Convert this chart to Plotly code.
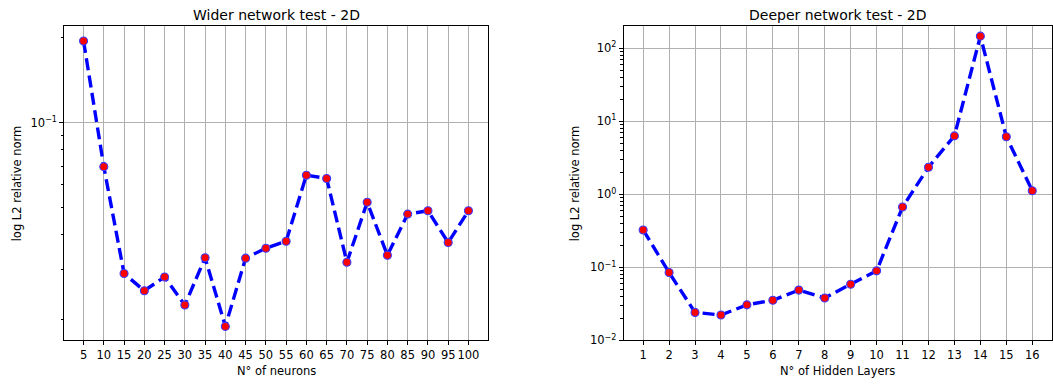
import plotly.graph_objects as go

neurons = [5, 10, 15, 20, 25, 30, 35, 40, 45, 50, 55, 60, 65, 70, 75, 80, 85, 90, 95, 100]
wider_err = [0.1945, 0.0697, 0.0291, 0.0253, 0.0283, 0.0225, 0.0331, 0.0189, 0.0330, 0.0358,
             0.0379, 0.0650, 0.0633, 0.0319, 0.0521, 0.0338, 0.0473, 0.0486, 0.0375, 0.0486]
layers = list(range(1, 17))
deeper_err = [0.325, 0.085, 0.0242, 0.0223, 0.0307, 0.0355, 0.0489, 0.0381, 0.0588, 0.0897,
              0.669, 2.35, 6.3, 146, 6.12, 1.12]

titles = ["Wider network test - 2D", "Deeper network test - 2D"]
xlabels = ["N° of neurons", "N° of Hidden Layers"]
ylabel = "log L2 relative norm"

FONT = "DejaVu Sans"
W, H = 1053, 389

def px_x(x):
    return x / W

def px_y(y):
    return 1 - y / H

fig = go.Figure()

def add_series(x, y, xa, ya):
    fig.add_trace(go.Scatter(
        x=x, y=y, xaxis=xa, yaxis=ya, mode="lines+markers",
        line=dict(color="blue", width=3.4, dash="12px,5.5px"),
        marker=dict(color="red", size=8, line=dict(color="#3a3aff", width=1.1)),
        showlegend=False, cliponaxis=False))

add_series(neurons, wider_err, "x", "y")
add_series(layers, deeper_err, "x2", "y2")

ydom = [px_y(346.7), px_y(26.7)]
dom1 = [px_x(64.3), px_x(487.7)]
dom2 = [px_x(623.7), px_x(1051.7)]

common_x = dict(showline=True, linecolor="black", linewidth=1, mirror=True,
                ticks="outside", ticklen=4, tickcolor="black", showgrid=True,
                gridcolor="#b0b0b0", gridwidth=0.8, zeroline=False, tickangle=0,
                tickfont=dict(family=FONT, size=11.5, color="black"), tickmode="array")
common_y = dict(common_x)
common_y["type"] = "log"

def minor_vals(lo, hi):
    vals = []
    for e in range(lo, hi + 1):
        for m in range(2, 10):
            vals.append(m * 10.0 ** e)
    return vals

fig.update_layout(
    width=W, height=H, margin=dict(l=0, r=0, t=0, b=0),
    plot_bgcolor="white", paper_bgcolor="white",
    xaxis=dict(common_x, domain=dom1, range=[0.25, 104.75], tickvals=neurons,
               ticktext=[str(v) for v in neurons], anchor="y"),
    yaxis=dict(common_y, domain=ydom, range=[-1.7735, -0.6585], tickvals=[0.1],
               ticktext=["10<sup>−1</sup>"], anchor="x",
               minor=dict(tickvals=minor_vals(-2, -1), ticks="outside", ticklen=2.3,
                          tickcolor="black", showgrid=False)),
    xaxis2=dict(common_x, domain=dom2, range=[0.25, 16.75], tickvals=layers,
                ticktext=[str(v) for v in layers], anchor="y2"),
    yaxis2=dict(common_y, domain=ydom, range=[-2, 2.3],
                tickvals=[0.01, 0.1, 1, 10, 100],
                ticktext=["10<sup>−2</sup>", "10<sup>−1</sup>", "10<sup>0</sup>",
                          "10<sup>1</sup>", "10<sup>2</sup>"], anchor="x2",
                minor=dict(tickvals=minor_vals(-2, 2), ticks="outside", ticklen=2.3,
                           tickcolor="black", showgrid=False)),
)

anns = []
for dom, t, xl, ylx in [(dom1, titles[0], xlabels[0], 17), (dom2, titles[1], xlabels[1], 575)]:
    cx = (dom[0] + dom[1]) / 2
    anns.append(dict(x=cx, y=px_y(15), xref="paper", yref="paper", text=t, showarrow=False,
                     font=dict(family=FONT, size=14, color="black"), xanchor="center", yanchor="middle"))
    anns.append(dict(x=cx, y=px_y(377.5), xref="paper", yref="paper", text=xl, showarrow=False,
                     font=dict(family=FONT, size=11.5, color="black"), xanchor="center", yanchor="middle"))
    anns.append(dict(x=px_x(ylx), y=px_y(186.7), xref="paper", yref="paper", text=ylabel, showarrow=False,
                     textangle=-90, font=dict(family=FONT, size=11.5, color="black"),
                     xanchor="center", yanchor="middle"))
fig.update_layout(annotations=anns)

fig.write_html("out.html", config={"displayModeBar": False},
               post_script="document.body.style.margin='0';document.body.style.overflow='hidden';")
